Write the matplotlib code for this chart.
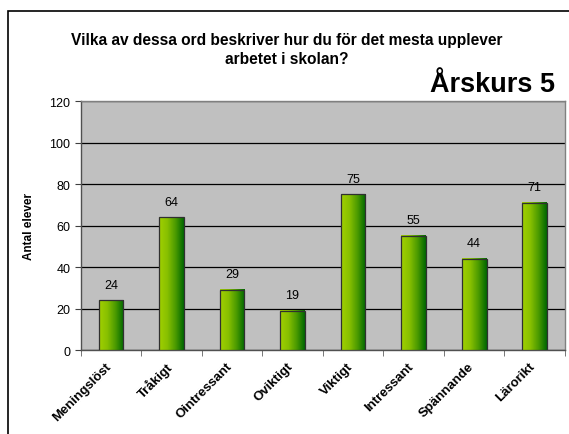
import matplotlib.pyplot as plt
import numpy as np
from matplotlib.colors import LinearSegmentedColormap
from matplotlib.patches import Rectangle
from matplotlib.transforms import ScaledTranslation

categories = ["Meningslöst", "Tråkigt", "Ointressant", "Oviktigt",
              "Viktigt", "Intressant", "Spännande", "Lärorikt"]
values = [24, 64, 29, 19, 75, 55, 44, 71]
yticks = [0, 20, 40, 60, 80, 100, 120]

plt.rcParams['font.family'] = ['Liberation Sans', 'DejaVu Sans']

fig = plt.figure(figsize=(5.69, 4.35), dpi=100)
ax = fig.add_axes([0.1418, 0.193, 0.851, 0.5725])
ax.set_facecolor('#C0C0C0')

# ram runt hela diagrammet (höger och nederkant utanför bilden)
fig.patches.append(Rectangle((8 / 569, -0.05), 1.0, 1 - 12 / 435 + 0.05,
                             transform=fig.transFigure, fill=False,
                             edgecolor='black', linewidth=1.2))

grad = LinearSegmentedColormap.from_list('g', ['#A0D000', '#88C000', '#4A9A00', '#006800'])
gimg = np.linspace(0, 1, 64).reshape(1, -1)
w = 0.41
x = np.arange(len(categories))
for xi, v in zip(x, values):
    ax.imshow(gimg, cmap=grad, aspect='auto', extent=(xi - w / 2, xi + w / 2, 0, v),
              zorder=3, interpolation='bilinear')
    ax.add_patch(Rectangle((xi - w / 2, 0), w, v, fill=False, edgecolor='#303030',
                           linewidth=0.9, zorder=4))
    ax.annotate(str(v), (xi, v), xytext=(0, 7), textcoords='offset points',
                ha='center', va='bottom', fontsize=9, zorder=5)

ax.set_xlim(-0.5, len(categories) - 0.5)
ax.set_ylim(0, 120)
ax.set_yticks(yticks)
ax.set_yticklabels([str(t) for t in yticks], fontsize=9)
ax.yaxis.grid(True, color='black', linewidth=0.9)
ax.set_axisbelow(True)

ax.set_xticks(x)
ax.set_xticklabels(categories, rotation=45, ha='right', rotation_mode='anchor',
                   fontsize=9.5, fontweight='bold')
ax.set_xticks(np.arange(-0.5, len(categories)), minor=True)
ax.tick_params(axis='x', which='major', length=0, pad=7)
ax.tick_params(axis='x', which='minor', length=4, direction='out', color='#606060')
ax.tick_params(axis='y', length=4, direction='out', color='#404040')
# flytta etiketterna lite åt vänster (efter tick_params, annars återställs det)
for lbl in ax.get_xticklabels():
    lbl.set_transform(lbl.get_transform() + ScaledTranslation(-0.06, 0, fig.dpi_scale_trans))

for s in ax.spines.values():
    s.set_color('#808080')
    s.set_linewidth(1.0)
ax.spines['left'].set_color('#505050')
ax.spines['bottom'].set_color('#505050')

ax.set_ylabel("Antal elever", fontsize=8.5, fontweight='bold', labelpad=10)

fig.text(287 / 569, 1 - 40 / 435, "Vilka av dessa ord beskriver hur du för det mesta upplever",
         ha='center', va='center', fontsize=11.2, fontweight='bold')
fig.text(287 / 569, 1 - 59 / 435, "arbetet i skolan?",
         ha='center', va='center', fontsize=11.2, fontweight='bold')
fig.text(555 / 569, 1 - 85 / 435, "Årskurs 5", ha='right', va='center',
         fontsize=19.5, fontweight='bold')

plt.savefig("out.png", dpi=100)
